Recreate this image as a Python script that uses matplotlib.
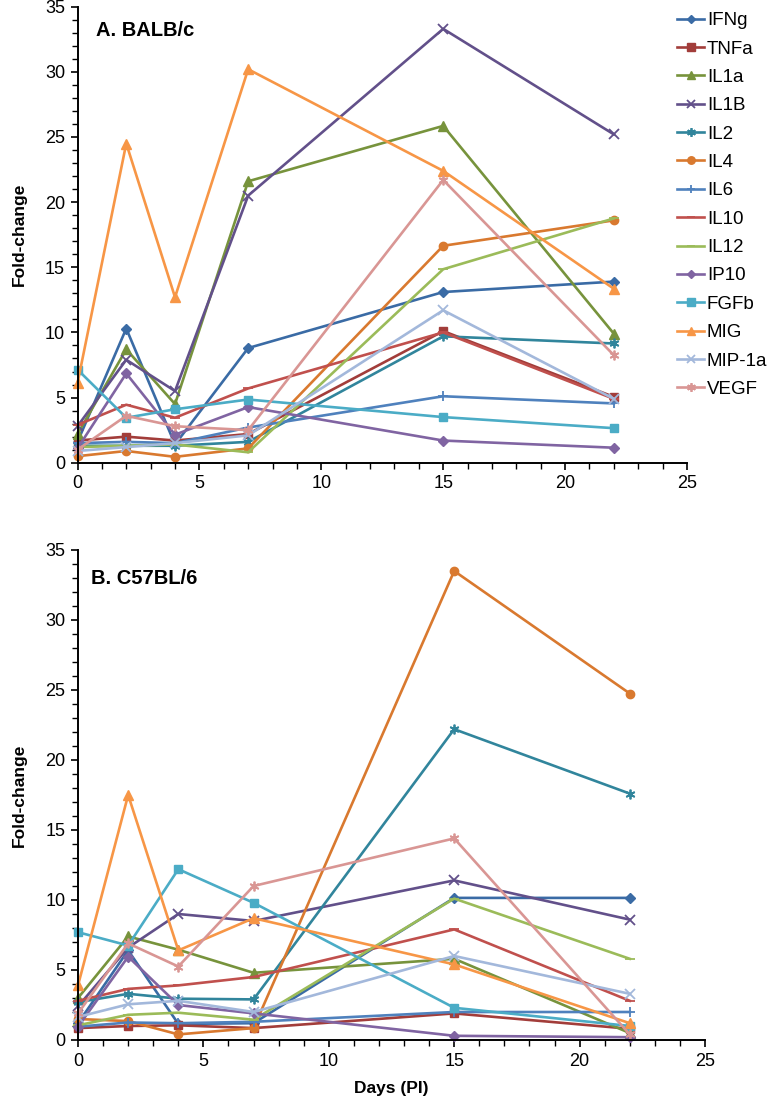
import matplotlib
matplotlib.use("Agg")
import matplotlib.pyplot as plt
from matplotlib.ticker import MultipleLocator

plt.rcParams['font.family'] = ['Liberation Sans', 'DejaVu Sans']

days = [0, 2, 4, 7, 15, 22]
cytokines = ["IFNg", "TNFa", "IL1a", "IL1B", "IL2", "IL4", "IL6", "IL10",
             "IL12", "IP10", "FGFb", "MIG", "MIP-1a", "VEGF"]

# Panel A: BALB/c fold-change
balb_IFNg = [1.6, 10.3, 1.4, 8.8, 13.1, 13.9]
balb_TNFa = [1.7, 2.0, 1.7, 2.2, 10.1, 5.05]
balb_IL1a = [2.2, 8.7, 4.5, 21.6, 25.85, 9.9]
balb_IL1B = [2.8, 7.9, 5.5, 20.5, 33.3, 25.2]
balb_IL2 = [1.3, 1.3, 1.3, 1.6, 9.7, 9.15]
balb_IL4 = [0.5, 0.9, 0.45, 1.1, 16.65, 18.6]
balb_IL6 = [1.5, 1.6, 1.5, 2.7, 5.1, 4.55]
balb_IL10 = [2.9, 4.45, 3.45, 5.7, 10.0, 4.9]
balb_IL12 = [1.2, 1.3, 1.4, 0.8, 14.85, 18.75]
balb_IP10 = [1.1, 6.85, 2.15, 4.27, 1.7, 1.15]
balb_FGFb = [7.15, 3.45, 4.1, 4.85, 3.5, 2.65]
balb_MIG = [6.1, 24.5, 12.7, 30.2, 22.4, 13.35]
balb_MIP1a = [0.9, 1.2, 1.5, 2.1, 11.7, 4.9]
balb_VEGF = [1.0, 3.6, 2.8, 2.5, 21.7, 8.25]

# Panel B: C57BL/6 fold-change
c57_IFNg = [1.2, 6.4, 1.15, 1.2, 10.15, 10.15]
c57_TNFa = [0.85, 1.0, 1.05, 0.85, 1.9, 0.8]
c57_IL1a = [3.0, 7.4, 6.45, 4.8, 5.8, 0.5]
c57_IL1B = [2.4, 6.6, 9.0, 8.5, 11.4, 8.6]
c57_IL2 = [2.7, 3.3, 2.95, 2.9, 22.2, 17.6]
c57_IL4 = [1.5, 1.35, 0.4, 0.85, 33.5, 24.75]
c57_IL6 = [0.95, 1.25, 1.2, 1.3, 2.0, 2.0]
c57_IL10 = [2.8, 3.65, 3.9, 4.5, 7.9, 2.8]
c57_IL12 = [1.05, 1.8, 1.95, 1.45, 10.1, 5.8]
c57_IP10 = [0.95, 5.95, 2.5, 1.9, 0.3, 0.2]
c57_FGFb = [7.7, 6.75, 12.2, 9.8, 2.3, 1.0]
c57_MIG = [3.9, 17.5, 6.4, 8.7, 5.4, 1.2]
c57_MIP1a = [1.65, 2.55, 2.8, 2.0, 6.0, 3.3]
c57_VEGF = [1.9, 6.9, 5.25, 11.0, 14.4, 0.4]

balb = [balb_IFNg, balb_TNFa, balb_IL1a, balb_IL1B, balb_IL2, balb_IL4, balb_IL6,
        balb_IL10, balb_IL12, balb_IP10, balb_FGFb, balb_MIG, balb_MIP1a, balb_VEGF]
c57 = [c57_IFNg, c57_TNFa, c57_IL1a, c57_IL1B, c57_IL2, c57_IL4, c57_IL6,
       c57_IL10, c57_IL12, c57_IP10, c57_FGFb, c57_MIG, c57_MIP1a, c57_VEGF]

colors = ['#3A6BA5', '#A23D3A', '#77933C', '#62508A', '#31859C', '#D9792F',
          '#4F81BD', '#C0504D', '#9BBB59', '#8064A2', '#4BACC6', '#F79646',
          '#A3B8DB', '#D99694']
asterisk = (6, 2, 0)
markers = ['D', 's', '^', 'x', asterisk, 'o', '+', '_', '_', 'D', 's', '^', 'x', asterisk]
msizes = [5, 6, 6.5, 6.5, 7, 6, 7, 7, 7, 5, 6, 6.5, 6.5, 7]

fig = plt.figure(figsize=(7.76, 11.05), dpi=100)
W, H = 776, 1105
def box(l, t, r, b):
    return [l / W, 1 - b / H, (r - l) / W, (b - t) / H]

axA = fig.add_axes(box(77.5, 6.7, 687, 462.7))
axB = fig.add_axes(box(78, 550, 705, 1040))

for ax, data, title in [(axA, balb, "A. BALB/c"), (axB, c57, "B. C57BL/6")]:
    for name, vals, c, m, ms in zip(cytokines, data, colors, markers, msizes):
        ax.plot(days, vals, color=c, marker=m, markersize=ms, linewidth=1.9,
                markeredgewidth=1.3 if m in ('x', '+', '_', asterisk) else 1.0,
                markeredgecolor=c, label=name)
    ax.set_xlim(0, 25)
    ax.set_ylim(0, 35)
    ax.xaxis.set_major_locator(MultipleLocator(5))
    ax.xaxis.set_minor_locator(MultipleLocator(1))
    ax.yaxis.set_major_locator(MultipleLocator(5))
    ax.yaxis.set_minor_locator(MultipleLocator(1))
    ax.tick_params(which='major', direction='out', length=5, width=1.2, labelsize=13, pad=4)
    ax.tick_params(which='minor', direction='out', length=4, width=1.0)
    for s in ['top', 'right']:
        ax.spines[s].set_visible(False)
    for s in ['left', 'bottom']:
        ax.spines[s].set_linewidth(1.4)
    ax.set_ylabel("Fold-change", fontsize=12.5, fontweight='bold', labelpad=13)
    for ln in ax.lines:
        ln.set_clip_on(False)

axA.text(0.03, 0.968, "A. BALB/c", transform=axA.transAxes, fontsize=14.5,
         fontweight='bold', va='top', ha='left')
axB.text(0.02, 0.962, "B. C57BL/6", transform=axB.transAxes, fontsize=14.5,
         fontweight='bold', va='top', ha='left')

axB.set_xlabel("Days (PI)", fontsize=12.5, fontweight='bold', labelpad=8)

handles, labels = axA.get_legend_handles_labels()
fig.legend(handles, labels, loc='upper left', bbox_to_anchor=(677 / W, 1 - 12 / H),
           frameon=False, fontsize=13.5, handlelength=1.45, handletextpad=0.15,
           labelspacing=0.6, borderaxespad=0, borderpad=0, markerscale=0.9)

fig.savefig("out.png", dpi=100)
